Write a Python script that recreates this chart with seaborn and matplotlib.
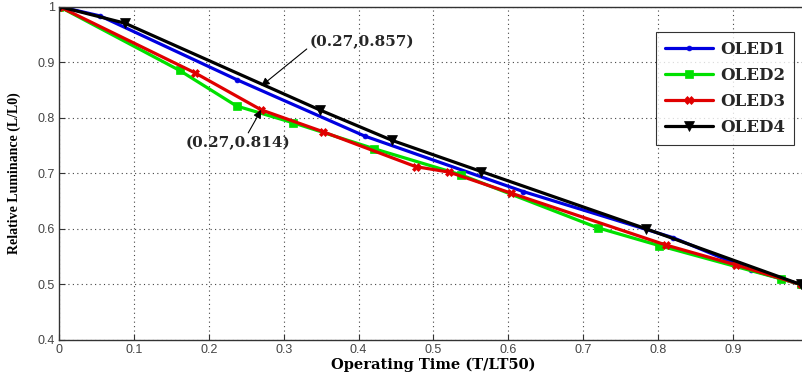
import matplotlib
matplotlib.use("Agg")
import matplotlib.pyplot as plt
import seaborn as sns
import pandas as pd

# Relative luminance decay of four OLED devices vs normalized operating time
oled1_t = [0.0, 0.055, 0.238, 0.408, 0.62, 0.82, 0.924, 0.99]
oled1_l = [1.0, 0.983, 0.868, 0.767, 0.667, 0.584, 0.526, 0.50]

oled2_t = [0.0, 0.161, 0.237, 0.312, 0.421, 0.537, 0.719, 0.801, 0.964, 0.99]
oled2_l = [1.0, 0.885, 0.821, 0.791, 0.744, 0.697, 0.602, 0.570, 0.510, 0.50]

oled3_t = [0.0, 0.181, 0.27, 0.352, 0.476, 0.521, 0.604, 0.810, 0.904, 0.99]
oled3_l = [1.0, 0.881, 0.814, 0.775, 0.712, 0.702, 0.664, 0.571, 0.535, 0.50]

oled4_t = [0.0, 0.088, 0.348, 0.445, 0.564, 0.784, 0.99]
oled4_l = [1.0, 0.970, 0.814, 0.759, 0.703, 0.600, 0.50]

series_names = ["OLED1", "OLED2", "OLED3", "OLED4"]
series_colors = ["#0000e0", "#00e000", "#e00000", "#000000"]
series_markers = ["o", "s", "X", "v"]
series_msizes = [3.5, 6, 5.5, 6.5]

ann_points = [(0.27, 0.857), (0.27, 0.814)]
x_ticks = [0, 0.1, 0.2, 0.3, 0.4, 0.5, 0.6, 0.7, 0.8, 0.9]
y_ticks = [0.4, 0.5, 0.6, 0.7, 0.8, 0.9, 1.0]
y_tick_labels = ["0.4", "0.5", "0.6", "0.7", "0.8", "0.9", "1"]

frames = []
for name, t, l in zip(series_names,
                      [oled1_t, oled2_t, oled3_t, oled4_t],
                      [oled1_l, oled2_l, oled3_l, oled4_l]):
    frames.append(pd.DataFrame({"time": t, "lum": l, "device": name}))
df = pd.concat(frames, ignore_index=True)

sns.set_theme(style="white")
plt.rcParams["font.family"] = ["Liberation Sans", "DejaVu Sans"]

fig = plt.figure(figsize=(8.02, 3.75), dpi=100)
ax = fig.add_axes([59 / 802, 35 / 375, 749 / 802, 333.5 / 375])

for name, col, mk, ms in zip(series_names, series_colors, series_markers, series_msizes):
    sub = df[df["device"] == name]
    sns.lineplot(data=sub, x="time", y="lum", ax=ax, color=col, marker=mk,
                 markersize=ms, markeredgewidth=0.5, markeredgecolor=col,
                 linewidth=2.3, sort=False, estimator=None, label=name)

ax.set_xlim(0, 1.0)
ax.set_ylim(0.4, 1.0)
ax.set_xticks(x_ticks)
ax.set_xticklabels([("%g" % v) for v in x_ticks])
ax.set_yticks(y_ticks)
ax.set_yticklabels(y_tick_labels)
ax.grid(True, linestyle=(0, (1, 3)), color="#444444", linewidth=0.8)
ax.tick_params(axis="both", direction="in", length=4, width=0.8,
               labelsize=9, labelcolor="#444444", color="#333333",
               bottom=True, left=True, pad=3)
for side in ["left", "bottom", "top"]:
    ax.spines[side].set_color("#333333")
    ax.spines[side].set_linewidth(1.0)
ax.spines["right"].set_visible(False)

serif_bold = dict(family=["DejaVu Serif"], fontweight="bold")

ax.set_xlabel("Operating Time (T/LT50)", fontsize=10.5, labelpad=1,
              color="black", **serif_bold)
ax.set_ylabel("Relative Luminance (L/L0)", family="Liberation Serif",
              fontweight="bold", fontsize=10, labelpad=12, color="black")

ax.annotate("(0.27,0.857)", xy=ann_points[0], xytext=(0.405, 0.936),
            ha="center", va="center", fontsize=11, **serif_bold,
            arrowprops=dict(arrowstyle="-|>", color="black", lw=0.8,
                            shrinkA=0, shrinkB=0, mutation_scale=12,
                            relpos=(0.0, 0.2)))
ax.annotate("(0.27,0.814)", xy=ann_points[1], xytext=(0.239, 0.754),
            ha="center", va="center", fontsize=11, **serif_bold,
            arrowprops=dict(arrowstyle="-|>", color="black", lw=0.8,
                            shrinkA=0, shrinkB=0, mutation_scale=12,
                            relpos=(0.58, 1.0)))

leg = ax.legend(loc="upper left", bbox_to_anchor=((656 - 59) / 749, 1 - 25 / 333.5),
                frameon=True, fancybox=False, edgecolor="black",
                prop={"family": "DejaVu Serif", "weight": "bold", "size": 12},
                handlelength=2.9, labelspacing=0.55, borderpad=0.55,
                handletextpad=0.4, borderaxespad=0)
leg.get_frame().set_linewidth(0.8)

fig.savefig("out.png", dpi=100)
